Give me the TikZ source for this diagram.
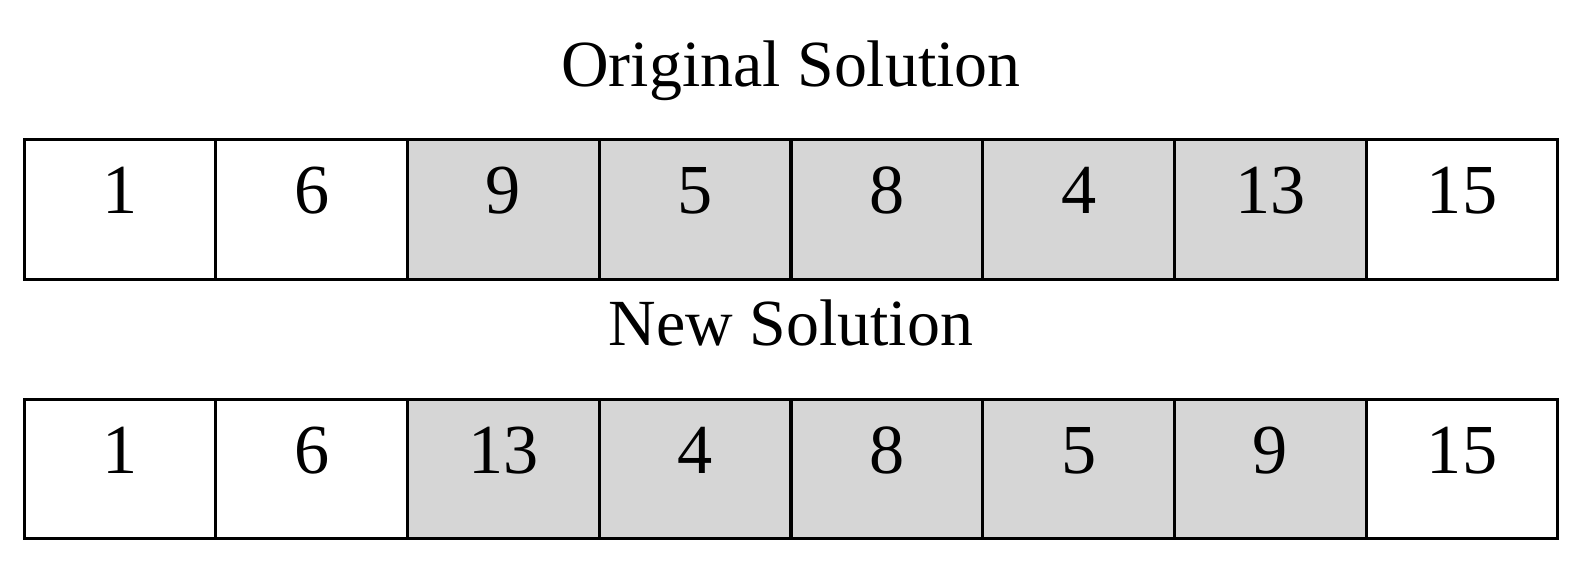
\documentclass[tikz,border=0pt]{standalone}
\usepackage{fontspec}
\setmainfont{Liberation Serif}
\usetikzlibrary{positioning}
\definecolor{swapgray}{RGB}{214,214,214}
\tikzset{
every picture/.style={line width=1.7pt},
%%%%%%%%%%  Node styles
cell/.style={draw, rectangle, minimum width=3.835cm, minimum height=2.79cm,
             inner sep=0pt, outer sep=0pt, text height=0.8cm, text depth=0.64cm,
             font=\fontsize{40}{48}\selectfont},
swapped/.style={cell, fill=swapgray},
caption/.style={anchor=base, font=\fontsize{37.5}{45}\selectfont}
}

\begin{document}
\begin{tikzpicture}[x=0.02cm, y=-0.02cm]
\useasboundingbox (0,0) rectangle (1587,581);
\node[caption] (origtitle) at (791,87) {Original Solution};
\foreach \v/\s [count=\i] in {1/cell,6/cell,9/swapped,5/swapped,8/swapped,
                              4/swapped,13/swapped,15/cell}
  \node[\s] (orig\i) at ({24+191.75*(\i-0.5)},209.5) {\v};
\node[caption] (newtitle) at (791,345) {New Solution};
\foreach \v/\s [count=\i] in {1/cell,6/cell,13/swapped,4/swapped,8/swapped,
                              5/swapped,9/swapped,15/cell}
  \node[\s] (new\i) at ({24+191.75*(\i-0.5)},469) {\v};
\end{tikzpicture}
\end{document}
